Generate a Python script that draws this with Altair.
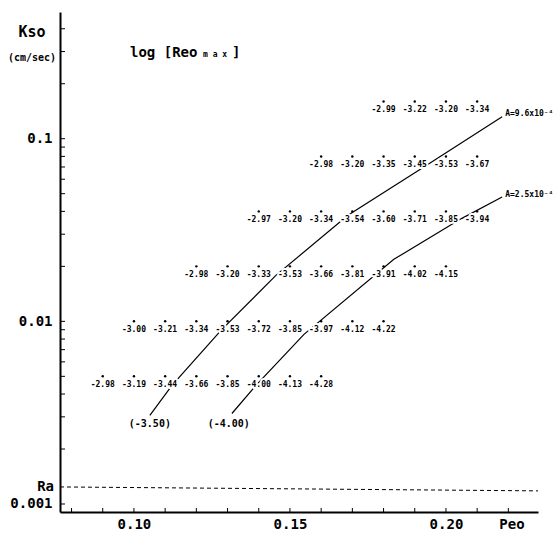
import altair as alt
import pandas as pd

# ---------------- data ----------------
row_kso = [0.16, 0.08, 0.04, 0.02, 0.01, 0.005]
row_peo_start = [0.18, 0.16, 0.14, 0.12, 0.10, 0.09]
peo_step = 0.01
row_logreo = [
    [-2.99, -3.22, -3.20, -3.34],
    [-2.98, -3.20, -3.35, -3.45, -3.53, -3.67],
    [-2.97, -3.20, -3.34, -3.54, -3.60, -3.71, -3.85, -3.94],
    [-2.98, -3.20, -3.33, -3.53, -3.66, -3.81, -3.91, -4.02, -4.15],
    [-3.00, -3.21, -3.34, -3.53, -3.72, -3.85, -3.97, -4.12, -4.22],
    [-2.98, -3.19, -3.44, -3.66, -3.85, -4.00, -4.13, -4.28],
]

# contour log[Reo max] = -3.50  (A = 9.6x10^-4)
c350_peo = [0.1051, 0.1122, 0.1279, 0.1455, 0.1686, 0.1923, 0.2180]
c350_kso = [0.00306, 0.00446, 0.00893, 0.01786, 0.03806, 0.06884, 0.1320]
# contour log[Reo max] = -4.00  (A = 2.5x10^-4)
c400_peo = [0.1314, 0.1391, 0.1545, 0.1833, 0.2051, 0.2180]
c400_kso = [0.00313, 0.00446, 0.00849, 0.02185, 0.03664, 0.04800]

contour_label_text = ["(-3.50)", "(-4.00)"]
contour_label_peo = [0.1051, 0.1304]
contour_label_kso = [0.00273, 0.00273]

a_label_text = ["A=9.6x10⁻⁴", "A=2.5x10⁻⁴"]
a_label_peo = [0.2190, 0.2190]
a_label_kso = [0.1360, 0.0490]

ra_peo = [0.0763, 0.2295]
ra_kso = [0.00124, 0.00118]

x_label_values = [0.10, 0.15, 0.20]
x_tick_values = [0.08, 0.09, 0.10, 0.11, 0.12, 0.13, 0.14, 0.15, 0.16,
                 0.17, 0.18, 0.19, 0.20, 0.21, 0.22]
y_label_values = [0.001, 0.01, 0.1]
y_tick_values = [0.001, 0.002, 0.003, 0.004, 0.005, 0.006, 0.007, 0.008, 0.009,
                 0.01, 0.02, 0.03, 0.04, 0.05, 0.06, 0.07, 0.08, 0.09,
                 0.1, 0.2, 0.3, 0.4]

# ---------------- tables ----------------
pts = []
for kso, start, vals in zip(row_kso, row_peo_start, row_logreo):
    for i, v in enumerate(vals):
        pts.append({"Peo": start + i * peo_step, "Kso": kso, "label": f"{v:.2f}"})
pts = pd.DataFrame(pts)

contours = pd.DataFrame(
    [{"Peo": p, "Kso": k, "c": "-3.50", "o": i} for i, (p, k) in enumerate(zip(c350_peo, c350_kso))]
    + [{"Peo": p, "Kso": k, "c": "-4.00", "o": i} for i, (p, k) in enumerate(zip(c400_peo, c400_kso))]
)
clabels = pd.DataFrame({"Peo": contour_label_peo, "Kso": contour_label_kso, "label": contour_label_text})
alabels = pd.DataFrame({"Peo": a_label_peo, "Kso": a_label_kso, "label": a_label_text})
ra = pd.DataFrame({"Peo": ra_peo, "Kso": ra_kso})
xt = pd.DataFrame({"Peo": x_tick_values})
yt = pd.DataFrame({"Kso": y_tick_values})

W, H = 478, 500
MONO = "DejaVu Sans Mono"

xs = alt.Scale(type="linear", domain=[0.0763, 0.2295], nice=False, zero=False)
ys = alt.Scale(type="log", domain=[0.000904, 0.494], nice=False)
x_axis = alt.Axis(values=x_label_values, format=".2f", title=None, ticks=False, grid=False,
                  domainColor="black", domainWidth=2, labelFont=MONO, labelFontWeight="bold",
                  labelFontSize=14, labelColor="black", labelPadding=5, labelFlush=False)
y_axis = alt.Axis(values=y_label_values, format=".3~f", title=None, ticks=False, grid=False,
                  domainColor="black", domainWidth=2, labelFont=MONO, labelFontWeight="bold",
                  labelFontSize=14, labelColor="black", labelPadding=8, labelFlush=False)
X = alt.X("Peo:Q", scale=xs, axis=x_axis)
Y = alt.Y("Kso:Q", scale=ys, axis=y_axis)

base = alt.Chart(pts)

ra_line = alt.Chart(ra).mark_line(color="black", strokeWidth=1, strokeDash=[4, 3]).encode(x=X, y=Y)
contour_lines = alt.Chart(contours).mark_line(color="black", strokeWidth=1.2).encode(
    x=X, y=Y, detail="c:N", order="o:Q")

halo = dict(color="white", stroke="white", strokeWidth=4, strokeJoin="round")
pt_halo = base.mark_text(font=MONO, fontWeight="bold", fontSize=8, baseline="middle", dy=9, **halo).encode(
    x=X, y=Y, text="label:N")
pt_text = base.mark_text(font=MONO, fontWeight="bold", fontSize=8, baseline="middle", dy=9, color="black").encode(
    x=X, y=Y, text="label:N")
dots = base.mark_circle(size=6, color="black", opacity=1).encode(x=X, y=Y)

cl_halo = alt.Chart(clabels).mark_text(font=MONO, fontWeight="bold", fontSize=10, baseline="middle", **halo).encode(
    x=X, y=Y, text="label:N")
cl_text = alt.Chart(clabels).mark_text(font=MONO, fontWeight="bold", fontSize=10, baseline="middle", color="black").encode(
    x=X, y=Y, text="label:N")
al_halo = alt.Chart(alabels).mark_text(font=MONO, fontWeight="bold", fontSize=8, baseline="middle", align="left", **halo).encode(
    x=X, y=Y, text="label:N")
al_text = alt.Chart(alabels).mark_text(font=MONO, fontWeight="bold", fontSize=8, baseline="middle", align="left", color="black").encode(
    x=X, y=Y, text="label:N")

x_ticks = alt.Chart(xt).mark_rule(color="black", strokeWidth=1).encode(
    x=X, y=alt.value(H), y2=alt.value(H - 4))
y_ticks = alt.Chart(yt).mark_rule(color="black", strokeWidth=1).encode(
    y=Y, x=alt.value(0), x2=alt.value(5))

ra_text = alt.Chart(pd.DataFrame({"Kso": [ra_kso[0]], "t": ["Ra"]})).mark_text(
    font=MONO, fontWeight="bold", fontSize=14, align="right", baseline="middle", color="black").encode(
    y=Y, x=alt.value(-6), text="t:N")


def label(txt, x, y, size, align="center", baseline="middle"):
    return alt.Chart(pd.DataFrame({"t": [txt]})).mark_text(
        font=MONO, fontWeight="bold", fontSize=size, align=align, baseline=baseline, color="black").encode(
        x=alt.value(x), y=alt.value(y), text="t:N")


annotations = [
    label("Kso", -28, 20, 15),
    label("(cm/sec)", -28, 46, 10),
    label("log [Reo", 70, 45, 14, align="left", baseline="alphabetic"),
    label("m a x", 143, 45, 8, align="left", baseline="alphabetic"),
    label("]", 172, 45, 14, align="left", baseline="alphabetic"),
    label("Peo", 452, 513, 14),
]

chart = alt.layer(
    ra_line, contour_lines, pt_halo, cl_halo, al_halo, pt_text, cl_text, al_text, dots,
    x_ticks, y_ticks, ra_text, *annotations
).properties(
    width=W, height=H,
    padding={"left": 60, "top": 12, "right": 18, "bottom": 24},
    autosize=alt.AutoSizeParams(type="none"),
).configure_view(stroke=None)

chart.save("out.html", embed_options={"renderer": "svg", "actions": False})
